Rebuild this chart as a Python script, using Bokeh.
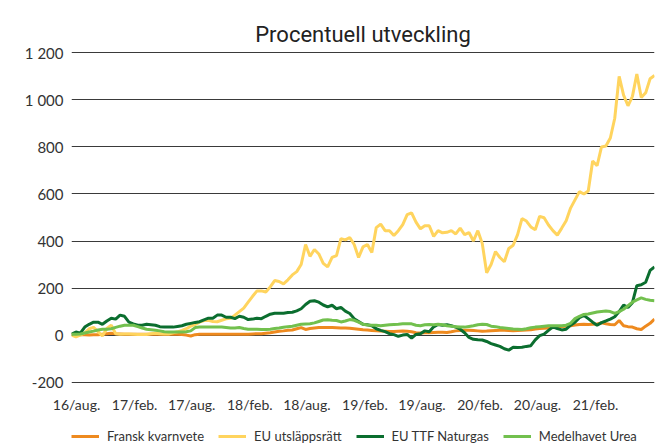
import pandas as pd
from bokeh.plotting import figure
from bokeh.layouts import column
from bokeh.models import FixedTicker, Range1d, Legend, LegendItem
from bokeh.embed import file_html
from bokeh.resources import INLINE

# --- data (percent change since start) ---
dates = pd.date_range("2016-07-16", periods=133, freq="14D")

fransk_kvarnvete = [4, 3, 2, 1, 0, 1, 2, 4, 6, 8,
 6, 5, 4, 4, 4, 4, 4, 4, 4, 4,
 4, 4, 4, 4, 4, 3, 0, -4, 2, 4,
 4, 4, 4, 4, 4, 4, 4, 4, 4, 4,
 4, 5, 6, 6, 8, 10, 13, 16, 18, 21,
 22, 27, 32, 24, 28, 30, 32, 32, 32, 32,
 31, 30, 30, 29, 27, 25, 23, 22, 20, 18,
 17, 16, 15, 15, 16, 17, 16, 14, 10, 9,
 10, 10, 11, 12, 12, 11, 14, 18, 20, 21,
 21, 20, 18, 16, 17, 19, 20, 21, 21, 20,
 19, 20, 21, 22, 23, 26, 28, 29, 30, 32,
 34, 37, 38, 40, 43, 45, 46, 45, 46, 47,
 52, 48, 45, 44, 62, 40, 36, 34, 27, 24,
 38, 50, 68]

eu_utslappsratt = [0, -8, 0, 10, 27, 33, 15, -4, 28, 42,
 6, 4, 5, 5, 4, 3, 3, 3, 6, 8,
 6, 5, 5, 10, 14, 20, 27, 38, 45, 55,
 62, 63, 58, 57, 63, 69, 72, 85, 100, 115,
 140, 165, 188, 188, 183, 205, 232, 228, 218, 235,
 256, 270, 300, 385, 335, 364, 345, 305, 290, 330,
 338, 410, 405, 415, 385, 330, 375, 385, 351, 457,
 472, 444, 444, 423, 444, 470, 512, 520, 480, 452,
 465, 465, 420, 444, 435, 437, 444, 430, 455, 427,
 436, 400, 444, 390, 265, 300, 355, 330, 312, 368,
 382, 427, 495, 485, 460, 448, 505, 499, 468, 444,
 425, 455, 486, 540, 575, 610, 600, 613, 740, 720,
 800, 804, 838, 922, 1100, 1020, 975, 1015, 1110, 1010,
 1030, 1090, 1104]

eu_ttf_naturgas = [4, 13, 8, 34, 46, 55, 55, 46, 60, 72,
 68, 85, 80, 55, 48, 42, 42, 46, 44, 42,
 36, 34, 34, 34, 37, 40, 46, 50, 54, 57,
 65, 72, 72, 85, 85, 76, 76, 70, 80, 76,
 66, 68, 72, 70, 80, 89, 93, 93, 93, 96,
 97, 103, 112, 130, 144, 146, 140, 128, 120, 127,
 112, 118, 102, 92, 70, 58, 46, 44, 40, 27,
 20, 15, 6, 2, -5, 0, 3, -13, 3, 6,
 18, 14, 35, 45, 42, 44, 40, 34, 25, 10,
 -10, -18, -20, -21, -27, -36, -42, -48, -58, -64,
 -52, -53, -52, -48, -45, -20, -2, 4, 20, 35,
 28, 22, 25, 42, 55, 74, 84, 70, 55, 42,
 53, 60, 68, 78, 100, 128, 118, 138, 210, 214,
 225, 275, 290]

medelhavet_urea = [4, 4, 5, 9, 13, 17, 22, 25, 25, 27,
 33, 38, 42, 42, 42, 36, 30, 25, 23, 21,
 18, 14, 13, 13, 13, 13, 14, 18, 32, 34,
 34, 34, 34, 34, 34, 32, 30, 30, 32, 28,
 25, 25, 25, 24, 24, 25, 28, 30, 33, 36,
 38, 42, 46, 47, 48, 52, 58, 64, 65, 63,
 62, 56, 60, 66, 63, 55, 46, 43, 42, 42,
 40, 42, 44, 45, 46, 48, 48, 48, 42, 40,
 44, 45, 44, 46, 44, 40, 38, 36, 34, 34,
 37, 40, 44, 46, 45, 38, 36, 32, 30, 28,
 26, 25, 24, 27, 31, 34, 36, 38, 40, 40,
 40, 40, 42, 50, 70, 80, 88, 90, 94, 98,
 100, 102, 100, 92, 100, 110, 125, 140, 150, 158,
 152, 148, 146]

series_names = ["Fransk kvarnvete", "EU utsläppsrätt", "EU TTF Naturgas", "Medelhavet Urea"]
series_colors = ["#EE8A1F", "#FFD45E", "#0B6E2F", "#72C04E"]

x_tick_dates = ["2016-08-01", "2017-02-01", "2017-08-01", "2018-02-01", "2018-08-01",
                "2019-02-01", "2019-08-01", "2020-02-01", "2020-08-01", "2021-02-01"]
x_tick_labels = ["16/aug.", "17/feb.", "17/aug.", "18/feb.", "18/aug.",
                 "19/feb.", "19/aug.", "20/feb.", "20/aug.", "21/feb."]
y_ticks = [-200, 0, 200, 400, 600, 800, 1000, 1200]
y_tick_labels = ["-200", "0", "200", "400", "600", "800", "1 000", "1 200"]

# --- build ---
def to_ms(ts):
    return int(pd.Timestamp(ts).value // 10**6)

x = [to_ms(d) for d in dates]
x_ticks = [to_ms(d) for d in x_tick_dates]

p = figure(width=656, height=415, output_backend="svg", toolbar_location=None,
           x_range=Range1d(x[0], x[-1]), y_range=Range1d(-210, 1210),
           min_border_left=71, min_border_right=2, min_border_top=50, min_border_bottom=28)

p.title.text = "Procentuell utveckling"
p.title.align = "center"
p.title.text_font = "Roboto"
p.title.text_font_style = "normal"
p.title.text_font_size = "22px"
p.title.text_color = "#222222"
p.title.standoff = 7

p.outline_line_color = None
p.background_fill_color = "white"
p.border_fill_color = "white"

p.xgrid.visible = False
p.ygrid.ticker = FixedTicker(ticks=y_ticks)
p.ygrid.grid_line_color = "#3a3a3a"
p.ygrid.grid_line_width = 1

p.yaxis.ticker = FixedTicker(ticks=y_ticks)
p.yaxis.major_label_overrides = {t: l for t, l in zip(y_ticks, y_tick_labels)}
p.xaxis.ticker = FixedTicker(ticks=x_ticks)
p.xaxis.major_label_overrides = {t: l for t, l in zip(x_ticks, x_tick_labels)}

for ax in (p.xaxis[0], p.yaxis[0]):
    ax.axis_line_color = None
    ax.major_tick_line_color = None
    ax.minor_tick_line_color = None
    ax.major_tick_out = 0
    ax.major_tick_in = 0
    ax.minor_tick_out = 0
    ax.minor_tick_in = 0
    ax.major_label_text_font = "Lato"
    ax.major_label_text_color = "#333333"
p.xaxis.major_label_text_font_size = "14px"
p.yaxis.major_label_text_font_size = "15px"
p.yaxis.major_label_standoff = 8
p.xaxis.major_label_standoff = 11

series = [fransk_kvarnvete, eu_utslappsratt, eu_ttf_naturgas, medelhavet_urea]
for vals, col in zip(series, series_colors):
    p.line(x, vals, line_color=col, line_width=3)

# --- legend strip (separate small figure below the chart) ---
# the same series are drawn here, but the y-range lies above all the data,
# so only the legend is visible
lg = figure(width=656, height=30, output_backend="svg", toolbar_location=None,
            x_range=Range1d(x[0], x[-1]), y_range=Range1d(5000, 6000),
            x_axis_location=None, y_axis_location=None,
            min_border_left=71, min_border_right=2, min_border_top=0, min_border_bottom=0)
lg.outline_line_color = None
lg.xgrid.visible = False
lg.ygrid.visible = False
items = []
for vals, name, col in zip(series, series_names, series_colors):
    r = lg.line(x, vals, line_color=col, line_width=3)
    items.append(LegendItem(label=name, renderers=[r]))
legend = Legend(items=items, orientation="horizontal", location=(0, 1),
                glyph_width=28, glyph_height=16, label_height=16, label_standoff=8,
                spacing=14, padding=0, margin=0,
                label_text_font="Lato", label_text_font_size="13px",
                label_text_color="#333333", border_line_color=None,
                background_fill_alpha=0)
lg.add_layout(legend)

layout = column(p, lg)
open("out.html", "w").write(file_html(layout, INLINE))
